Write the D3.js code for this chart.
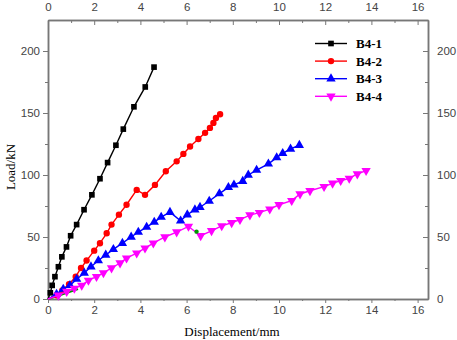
<!DOCTYPE html>
<html>
<head>
<meta charset="utf-8">
<script src="https://cdn.jsdelivr.net/npm/d3@7"></script>
<style>
  body { margin: 0; background: #fff; }
  .tick text { font-family: "Liberation Sans", Arial, sans-serif; font-size: 11.5px; fill: #444; }
  .axis path, .axis line { stroke: #777; }
</style>
</head>
<body>
<div id="chart"></div>
<script>
// load-displacement data
const seriesNames = ["B4-1", "B4-2", "B4-3", "B4-4"];
const seriesColors = ["#000000", "#ff0000", "#0000ff", "#ff00ff"];
const b41 = [[0,0],[0.1,5],[0.18,11],[0.3,18],[0.45,26],[0.6,34],[0.8,42],[0.98,51],[1.24,60],[1.56,72],[1.9,84],[2.25,97],[2.58,110],[2.94,124],[3.26,137],[3.72,155],[4.21,171],[4.59,187]];
const b42 = [[0,0],[0.37,3],[0.62,7],[0.91,12],[1.2,18],[1.43,25],[1.67,31],[2.0,39],[2.25,45],[2.54,53],[2.75,60],[3.07,68],[3.4,76],[3.84,88],[4.2,84],[4.63,92],[5.1,103],[5.57,111],[5.86,117],[6.15,123],[6.51,129],[6.8,134],[7.01,138],[7.16,142],[7.27,146],[7.45,149]];
const b43 = [[0,0],[0.37,4],[0.66,8],[0.95,11],[1.24,16],[1.57,21],[1.86,26],[2.18,31],[2.5,35.5],[2.83,40],[3.22,45],[3.6,50],[3.91,54],[4.27,58],[4.6,62],[4.9,66],[5.28,70],[5.74,63],[6.03,68],[6.36,72],[6.58,74],[6.98,79],[7.42,85],[7.81,90],[8.05,92],[8.43,95],[8.67,100],[9.03,104],[9.54,109],[9.9,114],[10.16,117.5],[10.5,121],[10.88,124]];
const b44 = [[0,0],[0.45,3],[0.81,6],[1.14,8.6],[1.46,11],[1.75,15],[2.1,18],[2.4,21],[2.75,25],[3.12,29],[3.4,33],[3.84,37],[4.2,41],[4.56,45],[5.06,50],[5.57,54],[6.08,58.5],[6.61,51],[7.08,55],[7.52,59],[7.95,61.5],[8.31,64],[8.74,67.7],[9.15,69.6],[9.6,72.5],[10.0,76],[10.55,79.3],[10.91,84.7],[11.34,87.3],[11.95,90.6],[12.32,93.3],[12.67,95.4],[13.04,97.3],[13.39,100.8],[13.77,103.5]];
const greenBits = [[0,0],[0.6,3.6],[1.3,8]];
const greenDot = [[6.43,54.3]];
const xTicks = [0,2,4,6,8,10,12,14,16];
const xMinor = [1,3,5,7,9,11,13,15];
const yTicks = [0,50,100,150,200];
const yMinor = [25,75,125,175];

const allSeries = [b41, b42, b43, b44];
const symbols = [d3.symbolSquare, d3.symbolCircle, d3.symbolTriangle, d3.symbolTriangle];
const symSizes = [32, 32, 38, 38];
const symRot = [0, 0, 0, 180];

const width = 457, height = 340;
let margin = {top: 20, right: 29, bottom: 41, left: 48};

let svg = d3.select("#chart").append("svg")
    .attr("width", width)
    .attr("height", height);

let x = d3.scaleLinear().domain([0, 16.45]).range([margin.left, width - margin.right]);
let y = d3.scaleLinear().domain([0, 225]).range([height - margin.bottom, margin.top]);

// axes
svg.append("g").attr("class", "axis")
    .attr("transform", "translate(0," + y(0) + ")")
    .call(d3.axisBottom(x).tickValues(xTicks).tickSize(4).tickSizeOuter(0).tickFormat(d3.format("d")));
svg.append("g").attr("class", "axis")
    .attr("transform", "translate(0," + y(0) + ")")
    .call(d3.axisBottom(x).tickValues(xMinor).tickSize(2).tickSizeOuter(0).tickFormat(""));
svg.append("g").attr("class", "axis")
    .attr("transform", "translate(0," + margin.top + ")")
    .call(d3.axisTop(x).tickValues(xTicks).tickSize(-5).tickPadding(9).tickSizeOuter(0).tickFormat(d3.format("d")));
svg.append("g").attr("class", "axis")
    .attr("transform", "translate(0," + margin.top + ")")
    .call(d3.axisTop(x).tickValues(xMinor).tickSize(-3).tickSizeOuter(0).tickFormat(""));
svg.append("g").attr("class", "axis")
    .attr("transform", "translate(" + margin.left + ",0)")
    .call(d3.axisLeft(y).tickValues(yTicks).tickSize(5).tickSizeOuter(0));
svg.append("g").attr("class", "axis")
    .attr("transform", "translate(" + margin.left + ",0)")
    .call(d3.axisLeft(y).tickValues(yMinor).tickSize(3).tickSizeOuter(0).tickFormat(""));
svg.append("g").attr("class", "axis")
    .attr("transform", "translate(" + x(16.45) + ",0)")
    .call(d3.axisRight(y).tickValues(yTicks).tickSize(-5).tickPadding(9).tickSizeOuter(0));
svg.append("g").attr("class", "axis")
    .attr("transform", "translate(" + x(16.45) + ",0)")
    .call(d3.axisRight(y).tickValues(yMinor).tickSize(-3).tickSizeOuter(0).tickFormat(""));
svg.selectAll(".axis path.domain").attr("stroke-width", 1.5);

// axis titles
svg.append("text")
    .attr("x", 232).attr("y", 336)
    .attr("text-anchor", "middle")
    .style("font-family", "'Liberation Serif', 'Times New Roman', serif")
    .style("font-size", "13px")
    .text("Displacement/mm");
svg.append("text")
    .attr("transform", "translate(15,167)rotate(-90)")
    .attr("text-anchor", "middle")
    .style("font-family", "'Liberation Serif', 'Times New Roman', serif")
    .style("font-size", "13px")
    .text("Load/kN");

let line = d3.line().x(d => x(d[0])).y(d => y(d[1]));

svg.append("path").datum(greenBits)
    .attr("fill", "none").attr("stroke", "#009900").attr("stroke-width", 2)
    .attr("d", line);

allSeries.forEach((data, i) => {
    svg.append("path").datum(data)
        .attr("fill", "none")
        .attr("stroke", seriesColors[i])
        .attr("stroke-width", 1.4)
        .attr("d", line);
    svg.selectAll("myMark" + i)
        .data(data.slice(1))
        .enter()
        .append("path")
        .attr("transform", d => "translate(" + x(d[0]) + "," + y(d[1]) + ")rotate(" + symRot[i] + ")")
        .attr("d", d3.symbol().type(symbols[i]).size(symSizes[i]))
        .attr("fill", seriesColors[i]);
});

svg.selectAll("greenDot")
    .data(greenDot)
    .enter()
    .append("circle")
    .attr("cx", d => x(d[0])).attr("cy", d => y(d[1]))
    .attr("r", 2.2).attr("fill", "#009900");

// legend
let legend = svg.append("g");
seriesNames.forEach((name, i) => {
    let ly = 43.5 + i * 17.6;
    legend.append("line")
        .attr("x1", 315).attr("x2", 347)
        .attr("y1", ly).attr("y2", ly)
        .attr("stroke", seriesColors[i]).attr("stroke-width", 1.4);
    legend.append("path")
        .attr("transform", "translate(331," + ly + ")rotate(" + symRot[i] + ")")
        .attr("d", d3.symbol().type(symbols[i]).size(symSizes[i]))
        .attr("fill", seriesColors[i]);
    legend.append("text")
        .attr("x", 356).attr("y", ly + 4.5)
        .style("font-family", "'Liberation Serif', 'Times New Roman', serif")
        .style("font-weight", "bold")
        .style("font-size", "13px")
        .text(name);
});
</script>
</body>
</html>
